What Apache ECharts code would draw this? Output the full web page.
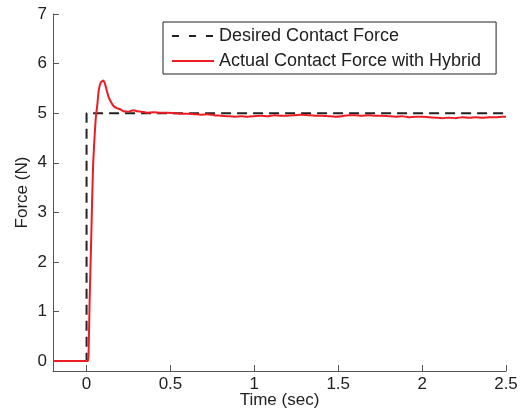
<!DOCTYPE html>
<html>
<head>
<meta charset="utf-8">
<script src="https://cdn.jsdelivr.net/npm/echarts@6/dist/echarts.min.js"></script>
<style>
  html, body { margin: 0; padding: 0; background: #fff; }
  #chart { width: 523px; height: 416px; }
</style>
</head>
<body>
<div id="chart"></div>
<script>
// Step reference: 0 N before t = 0, 5 N afterwards
const desiredTime = [-0.2, 0, 0, 2.5];
const desiredForce = [0, 0, 5, 5];

// Measured contact force (hybrid controller)
const actualTime = [
  -0.2, 0, 0.008, 0.012, 0.018, 0.028, 0.038, 0.054, 0.065, 0.073, 0.085,
  0.1, 0.11, 0.12, 0.13, 0.143, 0.16, 0.18, 0.2, 0.22, 0.25, 0.28, 0.3,
  0.33, 0.36, 0.4, 0.44, 0.48, 0.52, 0.56, 0.6, 0.64, 0.68, 0.72, 0.76,
  0.8, 0.84, 0.88, 0.92, 0.96, 1.0, 1.04, 1.08, 1.12, 1.16, 1.2, 1.24,
  1.28, 1.32, 1.36, 1.4, 1.44, 1.48, 1.52, 1.56, 1.6, 1.64, 1.68, 1.72,
  1.76, 1.8, 1.84, 1.88, 1.92, 1.96, 2.0, 2.04, 2.08, 2.12, 2.16, 2.2,
  2.24, 2.28, 2.32, 2.36, 2.4, 2.44, 2.48, 2.5
];
const actualForce = [
  0, 0, 0, 0.15, 1.17, 2.5, 3.85, 4.86, 5.2, 5.47, 5.62,
  5.66, 5.59, 5.46, 5.34, 5.24, 5.15, 5.1, 5.08, 5.04, 5.03, 5.06, 5.04,
  5.03, 5.01, 5.02, 5.01, 5.01, 5.0, 4.99, 4.99, 4.98, 4.97, 4.98, 4.96,
  4.95, 4.94, 4.93, 4.94, 4.93, 4.94, 4.95, 4.94, 4.96, 4.95, 4.95, 4.96,
  4.97, 4.96, 4.95, 4.95, 4.94, 4.93, 4.94, 4.96, 4.96, 4.95, 4.96, 4.95,
  4.95, 4.94, 4.93, 4.94, 4.92, 4.93, 4.93, 4.92, 4.91, 4.9, 4.91, 4.9,
  4.92, 4.91, 4.92, 4.91, 4.92, 4.92, 4.93, 4.93
];

const xTicks = [0, 0.5, 1, 1.5, 2, 2.5];
const yTicks = [0, 1, 2, 3, 4, 5, 6, 7];

const zip = (a, b) => a.map((v, i) => [v, b[i]]);

const FONT = '"Liberation Sans", Arial, Helvetica, sans-serif';
const axisColor = '#555';
const textColor = '#222';

const chart = echarts.init(document.getElementById('chart'), null, { renderer: 'canvas' });
chart.setOption({
  animation: false,
  backgroundColor: '#fff',
  grid: { left: 53, right: 17, top: 14, bottom: 45, containLabel: false, outerBoundsMode: 'none' },
  legend: {
    orient: 'vertical',
    left: 163,
    top: 22,
    padding: [5, 15, 4, 8],
    itemWidth: 42,
    itemHeight: 18,
    itemGap: 7,
    borderColor: '#222',
    borderWidth: 1,
    backgroundColor: '#fff',
    itemStyle: { opacity: 0 },
    textStyle: { fontFamily: FONT, fontSize: 18, color: textColor },
    data: [
      { name: 'Desired Contact Force', lineStyle: { type: [7, 10], width: 2 } },
      { name: 'Actual Contact Force with Hybrid' }
    ]
  },
  xAxis: {
    type: 'value',
    min: -0.2,
    max: 2.5,
    name: 'Time (sec)',
    nameLocation: 'middle',
    nameGap: 21,
    nameMoveOverlap: false,
    nameTextStyle: { fontFamily: FONT, fontSize: 17, color: textColor },
    splitLine: { show: false },
    axisLine: { show: true, onZero: false, lineStyle: { color: axisColor, width: 1 } },
    axisTick: { show: true, inside: true, length: 6, customValues: xTicks, lineStyle: { color: axisColor } },
    axisLabel: {
      customValues: xTicks, margin: 5,
      fontFamily: FONT, fontSize: 17, color: textColor,
      formatter: v => String(v)
    }
  },
  yAxis: {
    type: 'value',
    min: -0.2,
    max: 7,
    name: 'Force (N)',
    nameLocation: 'middle',
    nameGap: 22,
    nameMoveOverlap: false,
    nameTextStyle: { fontFamily: FONT, fontSize: 17, color: textColor },
    splitLine: { show: false },
    axisLine: { show: true, onZero: false, lineStyle: { color: axisColor, width: 1 } },
    axisTick: { show: true, inside: true, length: 6, customValues: yTicks, lineStyle: { color: axisColor } },
    axisLabel: {
      customValues: yTicks, margin: 6,
      fontFamily: FONT, fontSize: 17, color: textColor,
      formatter: v => String(v)
    }
  },
  series: [
    {
      name: 'Desired Contact Force',
      type: 'line',
      data: zip(desiredTime, desiredForce),
      showSymbol: false,
      symbol: 'none',
      z: 2,
      lineStyle: { color: '#222', width: 2, type: [10, 6] },
      itemStyle: { color: '#222' }
    },
    {
      name: 'Actual Contact Force with Hybrid',
      type: 'line',
      data: zip(actualTime, actualForce),
      showSymbol: false,
      symbol: 'none',
      smooth: 0.2,
      z: 3,
      lineStyle: { color: '#ec1c24', width: 2 },
      itemStyle: { color: '#ec1c24' }
    }
  ]
});
</script>
</body>
</html>
